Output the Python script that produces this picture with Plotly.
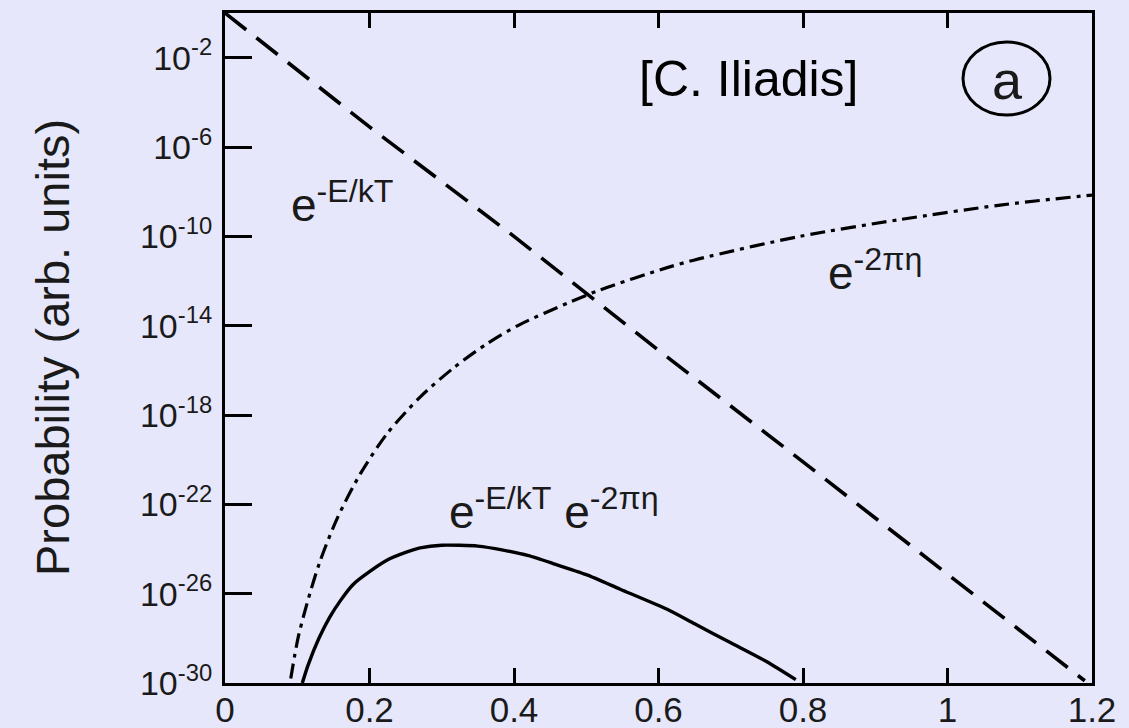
import plotly.graph_objects as go

# ---- data (x, log10 of probability) ----
boltz_x = [0.0, 0.2, 0.4, 0.6, 0.8, 1.0, 1.19]
boltz_exp = [0.0, -5.1, -10.0, -15.1, -20.1, -25.1, -29.9]

tunnel_x = [0.091, 0.101, 0.113, 0.131, 0.155, 0.187, 0.224, 0.270, 0.316, 0.363,
            0.408, 0.477, 0.519, 0.612, 0.657, 0.796, 0.934, 1.073, 1.2]
tunnel_exp = [-29.8, -28.0, -26.5, -24.6, -22.65, -20.65, -18.85, -17.2, -15.9, -14.8,
              -13.95, -12.95, -12.4, -11.4, -11.0, -10.0, -9.25, -8.6, -8.15]

prod_x = [0.107, 0.115, 0.13, 0.145, 0.16, 0.177, 0.19, 0.224, 0.25, 0.27, 0.3, 0.35,
          0.385, 0.42, 0.454, 0.5, 0.547, 0.612, 0.65, 0.7, 0.75, 0.79]
prod_exp = [-30.0, -29.2, -28.0, -27.05, -26.3, -25.6, -25.25, -24.5, -24.15, -23.95,
            -23.83, -23.87, -24.05, -24.3, -24.65, -25.15, -25.8, -26.7, -27.35,
            -28.2, -29.05, -29.85]

x_ticks = [0, 0.2, 0.4, 0.6, 0.8, 1.0, 1.2]
x_ticktext = ["0", "0.2", "0.4", "0.6", "0.8", "1", "1.2"]
y_exps = [-2, -6, -10, -14, -18, -22, -26, -30]

BG = "#e7e7fb"
FONT = "Liberation Sans, Arial, Helvetica, sans-serif"

fig = go.Figure()
fig.add_trace(go.Scatter(x=boltz_x, y=[10 ** e for e in boltz_exp], mode="lines",
                         line=dict(color="black", width=3.6, dash="27px,13px"),
                         showlegend=False))
fig.add_trace(go.Scatter(x=tunnel_x, y=[10 ** e for e in tunnel_exp], mode="lines",
                         line=dict(color="black", width=3.2, dash="15px,6px,4px,6px",
                                   shape="spline", smoothing=0.8),
                         showlegend=False))
fig.add_trace(go.Scatter(x=prod_x, y=[10 ** e for e in prod_exp], mode="lines",
                         line=dict(color="black", width=3.4, shape="spline", smoothing=0.6),
                         showlegend=False))

fig.update_layout(
    width=1129, height=728,
    margin=dict(l=225, r=37, t=13, b=45),
    paper_bgcolor=BG, plot_bgcolor=BG,
    font=dict(family=FONT, color="#1a1a1a"),
    xaxis=dict(range=[0, 1.2], tickvals=x_ticks, ticktext=x_ticktext, automargin=False,
               showgrid=False, zeroline=False, showline=True, linecolor="black",
               linewidth=3, mirror="ticks", ticks="inside", ticklen=15, tickwidth=3,
               tickcolor="black", tickfont=dict(size=35, family=FONT, color="#1a1a1a"),
               ticklabelstandoff=-6),
    yaxis=dict(type="log", range=[-30, 0], tickvals=[10 ** e for e in y_exps],
               ticktext=["10<sup>%d</sup>" % e for e in y_exps], automargin=False,
               showgrid=False, zeroline=False, showline=True, linecolor="black",
               linewidth=3, mirror=True, ticks="inside", ticklen=27, tickwidth=3,
               tickcolor="black", tickfont=dict(size=34, family=FONT, color="#1a1a1a"),
               ticklabelstandoff=3),
)

ann = [
    dict(text="Probability (arb. units)", xref="paper", yref="paper",
         x=(52 - 225) / 867, y=0.5, xanchor="center", yanchor="middle",
         textangle=-90, font=dict(size=47)),
    dict(text="e<sup>-E/kT</sup>", xref="x", yref="y", x=0.162, y=-8.45,
         xanchor="center", yanchor="middle", font=dict(size=46)),
    dict(text="e<sup>-2πη</sup>", xref="x", yref="y", x=0.900, y=-11.5,
         xanchor="center", yanchor="middle", font=dict(size=46)),
    dict(text="e<sup>-E/kT</sup> e<sup>-2πη</sup>", xref="x", yref="y", x=0.455, y=-22.2,
         xanchor="center", yanchor="middle", font=dict(size=46)),
    dict(text="[C. Iliadis]", xref="paper", yref="paper", x=(749 - 225) / 867,
         y=(683 - 79) / 670, xanchor="center", yanchor="middle",
         font=dict(size=50, color="black")),
    dict(text="a", xref="paper", yref="paper", x=(1007 - 225) / 867,
         y=(683 - 80) / 670, xanchor="center", yanchor="middle",
         font=dict(size=54)),
]
for a in ann:
    a["showarrow"] = False
    fig.add_annotation(**a)

fig.add_shape(type="circle", xref="paper", yref="paper",
              x0=(963 - 225) / 867, x1=(1050 - 225) / 867,
              y0=(683 - 115) / 670, y1=(683 - 42) / 670,
              line=dict(color="black", width=3))

fig.write_html("out.html", config={"displayModeBar": False},
               post_script="document.body.style.margin='0';"
                           "document.body.style.background='%s';" % BG)
